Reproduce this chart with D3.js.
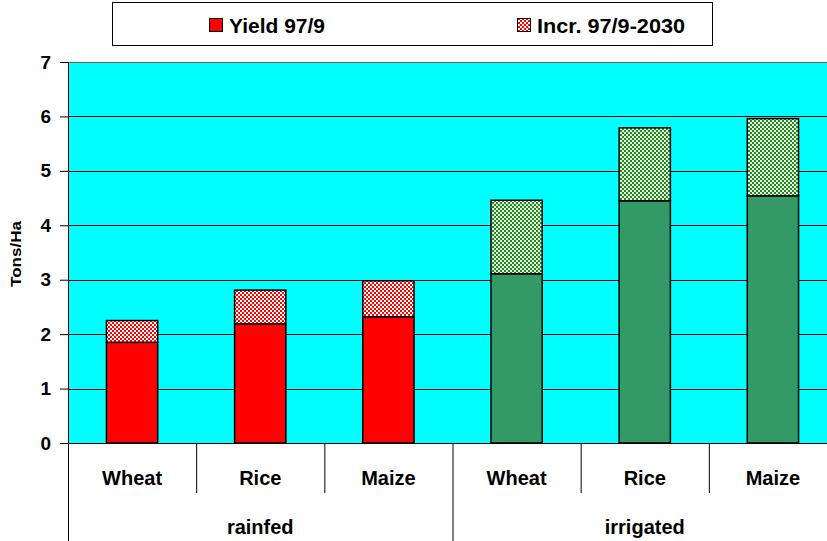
<!DOCTYPE html>
<html>
<head>
<meta charset="utf-8">
<script src="https://cdn.jsdelivr.net/npm/d3@7"></script>
<style>
  body { margin: 0; background: #fff; }
  svg { display: block; font-family: Arial, "Liberation Sans", sans-serif; font-weight: bold; }
</style>
</head>
<body>
<svg id="chart" width="827" height="541"></svg>
<script>
var crops = ['Wheat', 'Rice', 'Maize', 'Wheat', 'Rice', 'Maize'];
var groups = ['rainfed', 'irrigated'];
var cropGroup = ['rainfed', 'rainfed', 'rainfed', 'irrigated', 'irrigated', 'irrigated'];
var yield979 = [1.85, 2.19, 2.32, 3.11, 4.45, 4.54];
var incr2030 = [0.40, 0.62, 0.66, 1.35, 1.34, 1.42];
var yTicks = [0, 1, 2, 3, 4, 5, 6, 7];
var seriesNames = ['Yield 97/9', 'Incr. 97/9-2030'];

var svg = d3.select('#chart');
var margin = {top: 62, left: 68, bottom: 98};
var plotW = 769, plotH = 541 - margin.top - margin.bottom;

var defs = svg.append('defs');
function checker(id, c1, c2) {
  var p = defs.append('pattern').attr('id', id).attr('patternUnits', 'userSpaceOnUse')
    .attr('width', 4).attr('height', 4);
  p.append('rect').attr('width', 4).attr('height', 4).attr('fill', c2);
  p.append('rect').attr('width', 2).attr('height', 2).attr('fill', c1);
  p.append('rect').attr('x', 2).attr('y', 2).attr('width', 2).attr('height', 2).attr('fill', c1);
}
checker('chkRed', '#ff0000', '#ffffff');
checker('chkGreen', '#1f8a1f', '#e8f5e0');

var idx = d3.range(crops.length);
var x = d3.scaleBand().domain(idx).range([0, plotW]).paddingInner(0.6).paddingOuter(0.3);
var y = d3.scaleLinear().domain([0, 7]).range([plotH, 0]);

var g = svg.append('g').attr('transform', 'translate(' + margin.left + ',' + margin.top + ')');

g.append('rect').attr('width', plotW).attr('height', plotH).attr('fill', '#00ffff');

g.selectAll('.grid').data(yTicks.slice(1)).enter().append('line')
  .attr('x1', 0).attr('x2', plotW)
  .attr('y1', function(d) { return Math.round(y(d)) + 0.5; })
  .attr('y2', function(d) { return Math.round(y(d)) + 0.5; })
  .attr('stroke', function(d) { return d === 7 ? '#666' : '#000'; }).attr('stroke-width', 1);

function baseFill(i) { return cropGroup[i] === 'rainfed' ? '#ff0000' : '#339966'; }
function incrFill(i) { return cropGroup[i] === 'rainfed' ? 'url(#chkRed)' : 'url(#chkGreen)'; }

g.selectAll('.base').data(idx).enter().append('rect')
  .attr('x', function(i) { return x(i); })
  .attr('width', x.bandwidth())
  .attr('y', function(i) { return y(yield979[i]); })
  .attr('height', function(i) { return y(0) - y(yield979[i]); })
  .attr('fill', baseFill).attr('stroke', '#000').attr('stroke-width', 1.5);

g.selectAll('.incr').data(idx).enter().append('rect')
  .attr('x', function(i) { return x(i); })
  .attr('width', x.bandwidth())
  .attr('y', function(i) { return y(yield979[i] + incr2030[i]); })
  .attr('height', function(i) { return y(yield979[i]) - y(yield979[i] + incr2030[i]); })
  .attr('fill', incrFill).attr('stroke', '#000').attr('stroke-width', 1.5);

// y axis
var yAxis = d3.axisLeft(y).tickValues(yTicks).tickSize(8).tickFormat(d3.format('d'));
var ya = g.append('g').call(yAxis);
ya.select('.domain').attr('stroke', '#000');
ya.selectAll('.tick text').attr('font-size', 19).attr('font-weight', 'bold')
  .attr('font-family', 'Arial, "Liberation Sans", sans-serif').attr('fill', '#000').attr('x', -17);

svg.append('text').attr('transform', 'translate(21,254) rotate(-90)')
  .attr('text-anchor', 'middle').attr('font-size', 15).attr('textLength', 66)
  .attr('lengthAdjust', 'spacingAndGlyphs').text('Tons/Ha');

// x axis (two-level)
var bandStep = x.step();
var xa = svg.append('g').attr('transform', 'translate(' + margin.left + ',' + (margin.top + plotH) + ')');
xa.append('line').attr('x1', -5).attr('x2', plotW).attr('y1', 0.5).attr('y2', 0.5).attr('stroke', '#000');
idx.forEach(function(i) {
  var left = i * bandStep;
  var isGroupEdge = i % 3 === 0;
  xa.append('line').attr('x1', left + 0.5).attr('x2', left + 0.5).attr('y1', 0)
    .attr('y2', isGroupEdge ? 98 : 50).attr('stroke', '#000');
  xa.append('text').attr('x', x(i) + x.bandwidth() / 2).attr('y', 42)
    .attr('text-anchor', 'middle').attr('font-size', 20).text(crops[i]);
});
groups.forEach(function(gr, k) {
  xa.append('text').attr('x', (k * 3 + 1.5) * bandStep).attr('y', 91)
    .attr('text-anchor', 'middle').attr('font-size', 20).text(gr);
});

// legend
var lg = svg.append('g');
lg.append('rect').attr('x', 112.5).attr('y', 2.5).attr('width', 600).attr('height', 43)
  .attr('fill', '#fff').attr('stroke', '#000');
var legendX = [209, 517];
var legendW = [96, 148];
seriesNames.forEach(function(name, k) {
  lg.append('rect').attr('x', legendX[k] + 0.5).attr('y', 18.5).attr('width', 13).attr('height', 13)
    .attr('fill', k === 0 ? '#ff0000' : 'url(#chkRed)').attr('stroke', '#000');
  lg.append('text').attr('x', legendX[k] + 20).attr('y', 33).attr('font-size', 20)
    .attr('textLength', legendW[k]).attr('lengthAdjust', 'spacingAndGlyphs').text(name);
});
</script>
</body>
</html>
